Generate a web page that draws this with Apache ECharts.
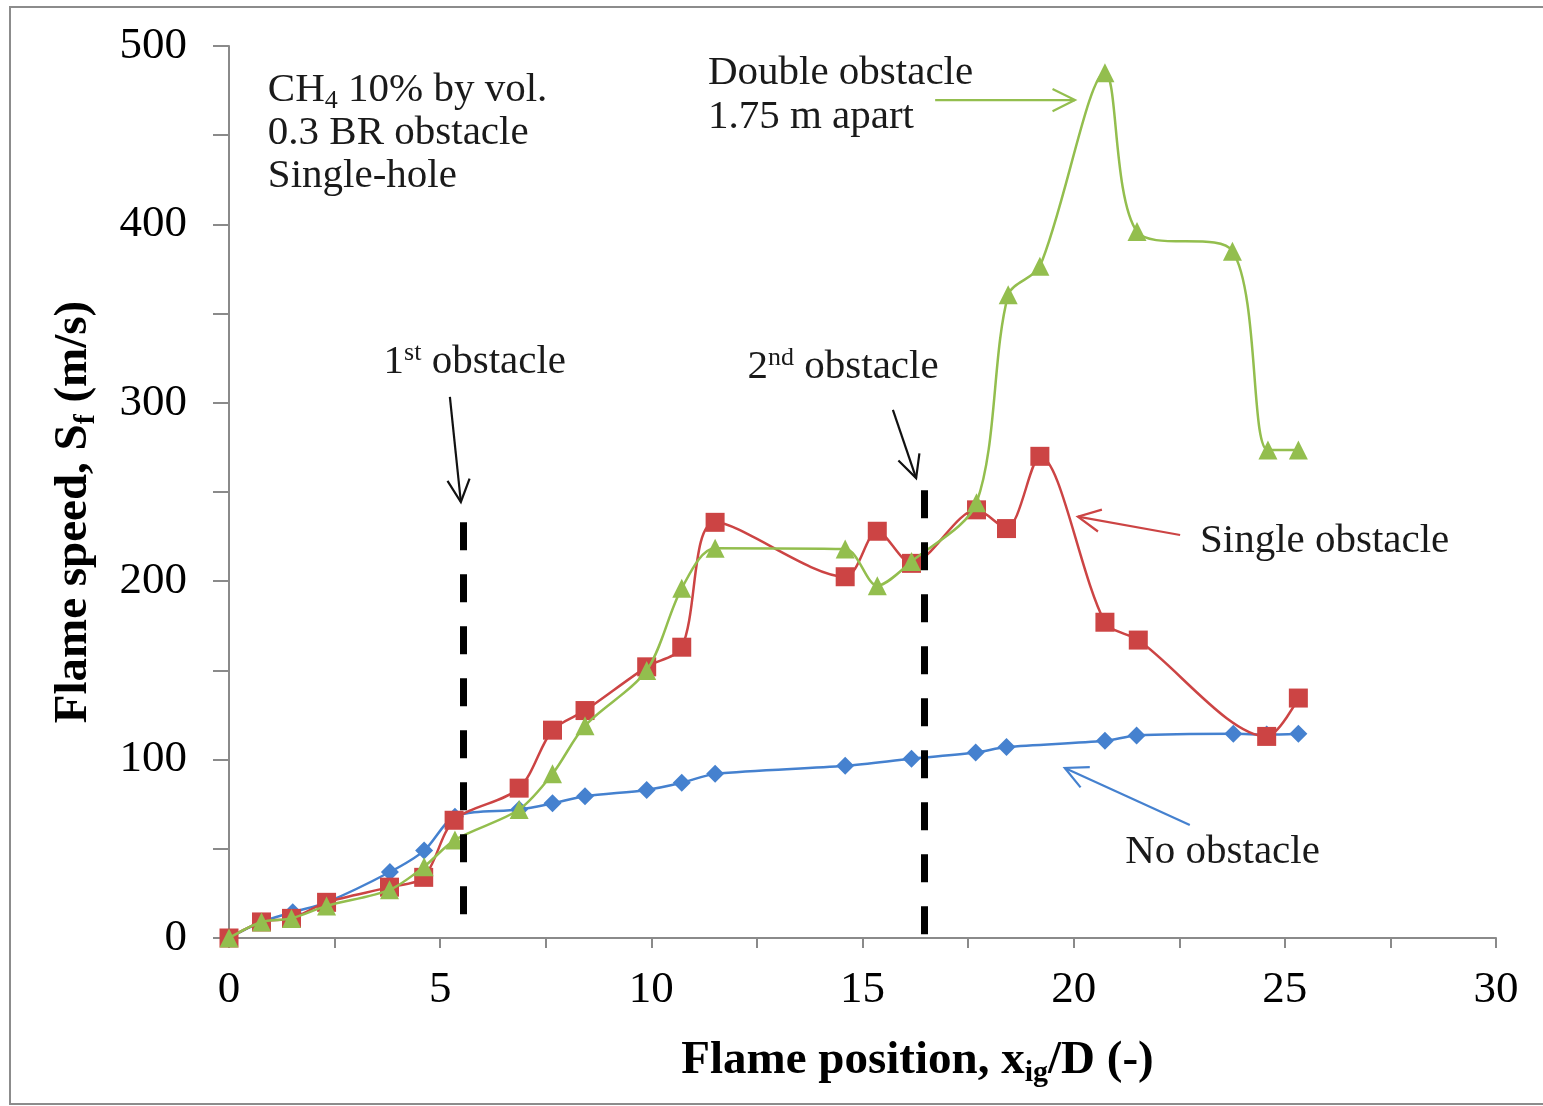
<!DOCTYPE html>
<html><head><meta charset="utf-8">
<script src="https://cdn.jsdelivr.net/npm/echarts@6/dist/echarts.min.js"></script>
<style>html,body{margin:0;padding:0;background:#fff}#c{width:1543px;height:1106px}</style>
</head><body><div id="c"></div>
<script>
// ---- data ----
const noObsX = [0, 0.77, 1.51, 2.31, 3.81, 4.62, 5.35, 6.87, 7.66, 8.43, 9.89, 10.72, 11.51, 14.59, 16.16, 17.68, 18.41, 20.74, 21.49, 23.78, 24.57, 25.32];
const noObsY = [0, 9, 14.5, 20, 37, 49, 68, 72, 75.5, 79.5, 83, 87, 92, 96.5, 100.5, 104, 107, 110.5, 113.5, 114.5, 114, 114.5];

const singleX = [0, 0.77, 1.48, 2.31, 3.80, 4.61, 5.33, 6.87, 7.66, 8.43, 9.89, 10.72, 11.51, 14.59, 15.35, 16.16, 17.70, 18.41, 19.20, 20.74, 21.53, 24.57, 25.32];
const singleY = [0, 9, 11, 20, 28.5, 34, 66, 84, 116.5, 127.5, 152, 163, 233, 202.5, 228, 210, 240, 229.5, 270, 177, 167, 113, 134.5];

const doubleX = [0, 0.77, 1.48, 2.31, 3.80, 4.62, 5.35, 6.87, 7.66, 8.43, 9.89, 10.72, 11.51, 14.59, 15.35, 16.16, 17.70, 18.45, 19.20, 20.74, 21.50, 23.76, 24.60, 25.32];
const doubleY = [0, 9, 11, 18, 27, 40, 55, 72, 92, 119, 150, 196, 218.5, 218, 197.5, 211, 244, 360.5, 376.5, 485, 396, 385, 273.5, 273.5];

const xTicks = [0, 5, 10, 15, 20, 25, 30];
const yTicks = [0, 100, 200, 300, 400, 500];

// obstacle locations (x/D) and the vertical extent of the dashed marker lines (m/s)
const obstacleX = [5.55, 16.46];
const obstacleTop = [233, 251];
const obstacleBottom = [11, 0];

// ---- styling ----
const FONT = "'Liberation Serif', 'Times New Roman', serif";
const BLUE = '#4581CF', RED = '#CC4444', GREEN = '#93BE4E', AXIS = '#8a8a8a';

const zip = (xs, ys) => xs.map((x, i) => [x, ys[i]]);

const chart = echarts.init(document.getElementById('c'), null, {renderer: 'canvas'});

chart.setOption({
  animation: false,
  backgroundColor: '#fff',
  grid: {left: 229, right: 47, top: 46, bottom: 168, containLabel: false},
  xAxis: {
    type: 'value', min: xTicks[0], max: xTicks[xTicks.length - 1], interval: xTicks[1] - xTicks[0],
    axisLine: {show: true, onZero: false, lineStyle: {color: AXIS, width: 2}},
    axisTick: {show: true, length: 10, lineStyle: {color: AXIS, width: 2}},
    minorTick: {show: true, splitNumber: 2, length: 10, lineStyle: {color: AXIS, width: 2}},
    splitLine: {show: false},
    axisLabel: {margin: 30, fontFamily: FONT, fontSize: 45, color: '#000'},
    name: 'Flame position, x{sub|ig}/D (-)',
    nameLocation: 'middle', nameGap: 96,
    nameTextStyle: {fontFamily: FONT, fontSize: 47, fontWeight: 'bold', color: '#000', padding: [0, 0, 0, 110],
      rich: {sub: {fontFamily: FONT, fontSize: 30, fontWeight: 'bold', color: '#000', padding: [24, 0, 0, 0]}}}
  },
  yAxis: {
    type: 'value', min: yTicks[0], max: yTicks[yTicks.length - 1], interval: yTicks[1] - yTicks[0],
    axisLine: {show: true, lineStyle: {color: AXIS, width: 2}},
    axisTick: {show: true, length: 16, lineStyle: {color: AXIS, width: 2}},
    minorTick: {show: true, splitNumber: 2, length: 16, lineStyle: {color: AXIS, width: 2}},
    splitLine: {show: false},
    axisLabel: {margin: 42, fontFamily: FONT, fontSize: 45, color: '#000'},
    name: 'Flame speed, S{sub|f} (m/s)',
    nameLocation: 'middle', nameGap: 128,
    nameTextStyle: {fontFamily: FONT, fontSize: 47, fontWeight: 'bold', color: '#000', padding: [0, 40, 0, 0],
      rich: {sub: {fontFamily: FONT, fontSize: 30, fontWeight: 'bold', color: '#000', padding: [24, 0, 0, 0]}}}
  },
  series: [
    {
      type: 'line', name: 'No obstacle', data: zip(noObsX, noObsY), smooth: 0.3,
      symbol: 'diamond', symbolSize: 18, z: 2,
      lineStyle: {color: BLUE, width: 2.5}, itemStyle: {color: BLUE},
      markLine: {
        silent: true, symbol: ['none', 'none'], label: {show: false},
        lineStyle: {color: '#000', width: 7, type: [28, 24]},
        emphasis: {disabled: true},
        data: obstacleX.map((x, i) => [{coord: [x, obstacleTop[i]]}, {coord: [x, obstacleBottom[i]]}])
      }
    },
    {
      type: 'line', name: 'Single obstacle', data: zip(singleX, singleY), smooth: 0.3,
      symbol: 'rect', symbolSize: 19, z: 3,
      lineStyle: {color: RED, width: 2.5}, itemStyle: {color: RED}
    },
    {
      type: 'line', name: 'Double obstacle', data: zip(doubleX, doubleY), smooth: 0.3,
      symbol: 'triangle', symbolSize: 19, z: 4,
      lineStyle: {color: GREEN, width: 2.5}, itemStyle: {color: GREEN}
    }
  ]
});

// ---- annotations (anchored in data coordinates) ----
const toPx = p => chart.convertToPixel({gridIndex: 0}, p);
function arrowEls(from, to, color) {
  const a = toPx(from), b = toPx(to);
  const ang = Math.atan2(b[1] - a[1], b[0] - a[0]);
  const L = 25, sp = 0.46;
  const h1 = [b[0] - L * Math.cos(ang - sp), b[1] - L * Math.sin(ang - sp)];
  const h2 = [b[0] - L * Math.cos(ang + sp), b[1] - L * Math.sin(ang + sp)];
  return [
    {type: 'polyline', shape: {points: [a, b]}, style: {stroke: color, lineWidth: 2.2, fill: null}, z: 10},
    {type: 'polyline', shape: {points: [h1, b, h2]}, style: {stroke: color, lineWidth: 2.2, fill: null}, z: 10}
  ];
}
const baseRich = {
  n: {fontFamily: FONT, fontSize: 41, fill: '#1a1a1a'},
  sup: {fontFamily: FONT, fontSize: 26, fill: '#1a1a1a', padding: [0, 0, 18, 0]},
  sub: {fontFamily: FONT, fontSize: 26, fill: '#1a1a1a', padding: [22, 0, 0, 0]}
};
function textEl(text, at, align) {
  const p = toPx(at);
  return {type: 'text', x: p[0], y: p[1], z: 10,
    style: {text: text, rich: baseRich, align: align, verticalAlign: 'middle', fontFamily: FONT, fontSize: 41, fill: '#1a1a1a'}};
}

const graphics = [
  {type: 'rect', shape: {x: 10, y: 7, width: 1545, height: 1097}, style: {stroke: '#8c8c8c', lineWidth: 2, fill: null}, z: 0},
  textEl('{n|CH}{sub|4}{n| 10% by vol.}', [0.92, 475.3], 'left'),
  textEl('{n|0.3 BR obstacle}', [0.92, 451.2], 'left'),
  textEl('{n|Single-hole}', [0.92, 427.1], 'left'),
  textEl('{n|1}{sup|st}{n| obstacle}', [5.82, 322.9], 'center'),
  textEl('{n|2}{sup|nd}{n| obstacle}', [14.54, 320.1], 'center'),
  textEl('{n|Double obstacle}', [11.34, 484.9], 'left'),
  textEl('{n|1.75 m apart}', [11.34, 460.2], 'left'),
  textEl('{n|Single obstacle}', [22.99, 222.5], 'left'),
  textEl('{n|No obstacle}', [21.22, 48.2], 'left'),
  ...arrowEls([5.23, 303.3], [5.49, 244.4], '#111'),
  ...arrowEls([15.72, 296.0], [16.27, 257.8], '#111'),
  ...arrowEls([16.72, 469.7], [20.03, 469.7], GREEN),
  ...arrowEls([22.52, 225.9], [20.10, 236.2], RED),
  ...arrowEls([22.75, 63.3], [19.79, 95.3], BLUE)
];
chart.setOption({graphic: graphics});
</script>
</body></html>
